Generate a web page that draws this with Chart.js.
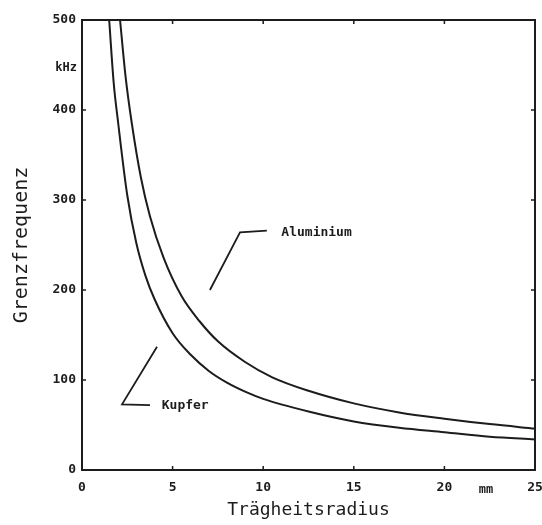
<!DOCTYPE html>
<html lang="de">
<head>
    <meta charset="UTF-8">
    <title>Grenzfrequenz</title>
    <script src="https://cdn.jsdelivr.net/npm/chart.js"></script>
    <style>
        body { margin: 0; background: #fff; }
        #wrap { width: 542px; height: 525px; position: relative; }
    </style>
</head>
<body>
<div id="wrap"><canvas id="graph"></canvas></div>
<script>
// Werte (Radius in mm, Frequenz in kHz)
const kupferR = [1.5, 1.75, 2.0, 2.5, 3.0, 3.5, 4.0, 5.0, 6.0, 7.0, 8.0, 9.0, 10.0, 12.5, 15.0, 17.5, 20.0, 22.5, 25.0];
const kupferF = [500, 430, 385, 305, 252, 216, 190, 152, 128, 110, 97, 87, 79, 65, 54, 47, 42, 37, 34];

const alumR = [2.1, 2.4, 2.75, 3.25, 3.75, 4.5, 5.5, 6.5, 7.5, 9.0, 10.5, 12.5, 15.0, 17.5, 20.0, 22.5, 25.0];
const alumF = [500, 438, 385, 325, 282, 236, 193, 165, 143, 120, 103, 88, 74, 64, 57, 51, 46];

const xTicks = [0, 5, 10, 15, 20, 25];
const yTicks = [0, 100, 200, 300, 400, 500];

// Beschriftungen mit Hinweislinien, in Datenkoordinaten
const notes = [
    { text: 'Aluminium', line: [[7.06, 200], [8.72, 264], [10.2, 266]], at: [11.0, 264] },
    { text: 'Kupfer', line: [[4.14, 137], [2.21, 73], [3.75, 72]], at: [4.4, 72] }
];

const ink = '#1c1c1c';
const mono = '"DejaVu Sans Mono", monospace';

const frame = {
    id: 'frame',
    afterDraw(chart) {
        const ctx = chart.ctx;
        const a = chart.chartArea;
        const xs = chart.scales.x, ys = chart.scales.y;
        ctx.save();
        ctx.strokeStyle = ink;
        ctx.lineWidth = 2;
        ctx.strokeRect(a.left, a.top, a.right - a.left, a.bottom - a.top);

        // kleine Striche nach innen
        ctx.lineWidth = 1.5;
        xTicks.forEach(v => {
            const px = xs.getPixelForValue(v);
            ctx.beginPath();
            ctx.moveTo(px, a.bottom); ctx.lineTo(px, a.bottom - 4);
            ctx.moveTo(px, a.top); ctx.lineTo(px, a.top + 4);
            ctx.stroke();
        });
        yTicks.forEach(v => {
            const py = ys.getPixelForValue(v);
            ctx.beginPath();
            ctx.moveTo(a.left, py); ctx.lineTo(a.left + 4, py);
            ctx.moveTo(a.right, py); ctx.lineTo(a.right - 4, py);
            ctx.stroke();
        });

        // Hinweislinien und Namen
        ctx.lineWidth = 1.8;
        ctx.fillStyle = ink;
        ctx.font = 'bold 13px ' + mono;
        ctx.textBaseline = 'middle';
        notes.forEach(n => {
            ctx.beginPath();
            n.line.forEach((p, i) => {
                const px = xs.getPixelForValue(p[0]), py = ys.getPixelForValue(p[1]);
                if (i === 0) ctx.moveTo(px, py); else ctx.lineTo(px, py);
            });
            ctx.stroke();
            ctx.textAlign = 'left';
            ctx.fillText(n.text, xs.getPixelForValue(n.at[0]), ys.getPixelForValue(n.at[1]));
        });

        // Einheiten
        ctx.font = 'bold 12px ' + mono;
        ctx.textAlign = 'center';
        ctx.fillText('mm', xs.getPixelForValue(22.3), a.bottom + 20);
        ctx.textAlign = 'right';
        ctx.fillText('kHz', a.left - 5, ys.getPixelForValue(447));
        ctx.restore();
    }
};

new Chart(document.getElementById('graph'), {
    type: 'scatter',
    data: {
        datasets: [
            {
                label: 'Aluminium',
                data: alumR.map((r, i) => ({ x: r, y: alumF[i] })),
                showLine: true,
                borderColor: ink,
                borderWidth: 2,
                pointRadius: 0,
                cubicInterpolationMode: 'monotone'
            },
            {
                label: 'Kupfer',
                data: kupferR.map((r, i) => ({ x: r, y: kupferF[i] })),
                showLine: true,
                borderColor: ink,
                borderWidth: 2,
                pointRadius: 0,
                cubicInterpolationMode: 'monotone'
            }
        ]
    },
    options: {
        responsive: true,
        maintainAspectRatio: false,
        animation: false,
        layout: { padding: { top: 20, right: 7, left: 0, bottom: 0 } },
        plugins: { legend: { display: false }, tooltip: { enabled: false } },
        scales: {
            x: {
                type: 'linear',
                min: 0, max: 25,
                afterFit(s) { s.height = 55; s.paddingLeft = 0; s.paddingRight = 0; },
                afterBuildTicks(s) { s.ticks = xTicks.map(v => ({ value: v })); },
                grid: { display: false, drawTicks: false },
                border: { display: false },
                ticks: { color: ink, padding: 10, maxRotation: 0, font: { family: mono, size: 13, weight: 'bold' } },
                title: { display: true, text: 'Trägheitsradius', color: ink, padding: { top: 2 }, font: { family: mono, size: 18 } }
            },
            y: {
                type: 'linear',
                min: 0, max: 500,
                afterFit(s) { s.width = 82; s.paddingTop = 0; s.paddingBottom = 0; },
                afterBuildTicks(s) { s.ticks = yTicks.map(v => ({ value: v })); },
                grid: { display: false, drawTicks: false },
                border: { display: false },
                ticks: { color: ink, padding: 6, font: { family: mono, size: 13, weight: 'bold' } },
                title: { display: true, text: 'Grenzfrequenz', color: ink, padding: { top: 10, bottom: 0 }, font: { family: mono, size: 20 } }
            }
        }
    },
    plugins: [frame]
});
</script>
</body>
</html>
